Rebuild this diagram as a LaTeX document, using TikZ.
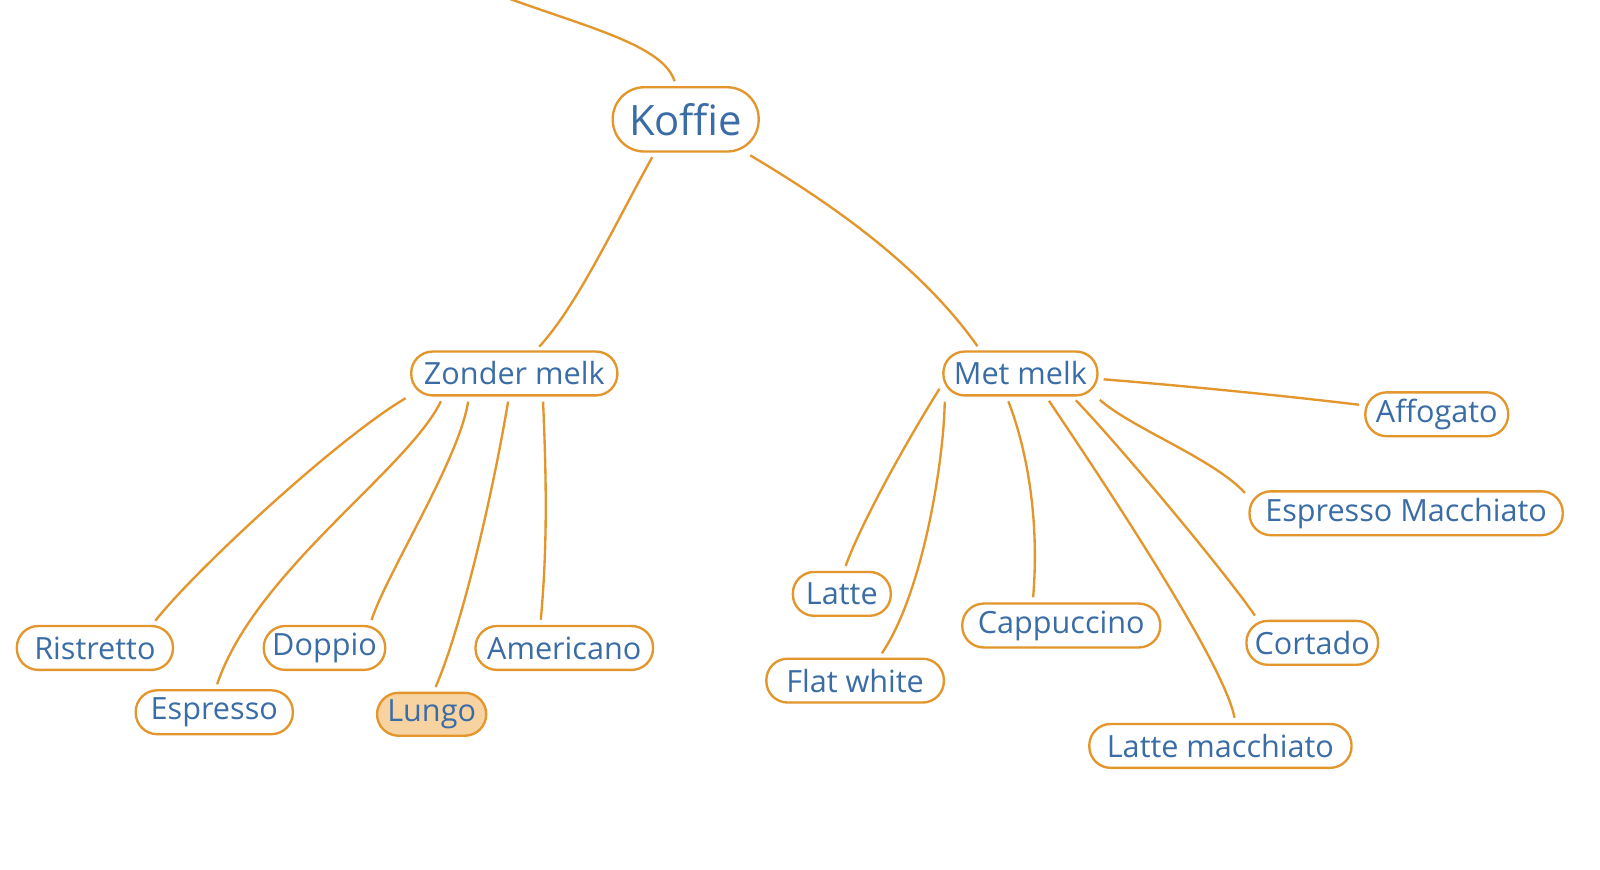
\documentclass[tikz,border=0pt]{standalone}
\usepackage{fontspec}
\setmainfont{Open Sans}
\definecolor{lineor}{HTML}{E3962C}
\definecolor{txtbl}{HTML}{3A6CA6}
\definecolor{lungofill}{HTML}{F8D3A2}
\tikzset{
  leaf/.style={draw=lineor, line width=2.3pt, rounded corners=21pt, minimum height=43pt,
    inner xsep=4pt, inner ysep=0pt, text=txtbl, font=\fontsize{30}{35}\selectfont, fill=white},
  rootbox/.style={leaf, rounded corners=31pt, minimum height=63pt, font=\fontsize{41}{48}\selectfont},
  conn/.style={draw=lineor, line width=2.3pt, shorten <=5pt, shorten >=5pt}
}
\begin{document}
\begin{tikzpicture}[x=1pt,y=-1pt]
\useasboundingbox[fill=white] (0,0) rectangle (1568,852.6);
% nodes
\node[rootbox, minimum width=143pt] (kof) at (672,117) {Koffie};
\node[leaf, minimum width=202pt] (zm) at (504,366) {Zonder melk};
\node[leaf, minimum width=151pt] (mm) at (1000,366) {Met melk};
\node[leaf, minimum width=140pt] (aff) at (1408,406) {Affogato};
\node[leaf, minimum width=307pt] (em) at (1378,503) {Espresso Macchiato};
\node[leaf, minimum width=129pt] (cor) at (1286,630) {Cortado};
\node[leaf, minimum width=257pt] (lm) at (1196,731) {Latte macchiato};
\node[leaf, minimum width=194pt] (cap) at (1040,613) {Cappuccino};
\node[leaf, minimum width=96pt] (lat) at (825,582) {Latte};
\node[leaf, minimum width=174pt] (fw) at (838,667) {Flat white};
\node[leaf, minimum width=153pt] (ris) at (93,635) {Ristretto};
\node[leaf, minimum width=154pt] (esp) at (210,698) {Espresso};
\node[leaf, minimum width=119pt] (dop) at (318,635) {Doppio};
\node[leaf, minimum width=107pt, minimum height=42pt, fill=lungofill] (lun) at (423,700) {Lungo};
\node[leaf, minimum width=174pt] (ame) at (553,635) {Americano};
\coordinate (topend) at (497,-2);
% connectors
\draw[conn, shorten <=0pt] (topend) .. controls (580,28) and (650,45) .. (kof.106);
\draw[conn] (kof.227) .. controls (600,225) and (565,300) .. (zm.47);
\draw[conn] (kof.331) .. controls (790,185) and (895,250) .. (mm.150);
\draw[conn] (zm.192) .. controls (330,430) and (190,560) .. (ris.22);
\draw[conn] (zm.198) .. controls (400,460) and (250,560) .. (esp.87);
\draw[conn] (zm.207) .. controls (450,450) and (380,560) .. (dop.27);
\draw[conn] (zm.257) .. controls (480,500) and (450,620) .. (lun.85);
\draw[conn] (zm.321) .. controls (536,480) and (536,540) .. (ame.136);
\draw[conn] (mm.188) .. controls (890,430) and (845,510) .. (lat.85);
\draw[conn] (mm.197) .. controls (925,450) and (905,580) .. (fw.44);
\draw[conn] (mm.239) .. controls (1010,450) and (1018,520) .. (cap.141);
\draw[conn] (mm.318) .. controls (1080,470) and (1200,650) .. (lm.57);
\draw[conn] (mm.336) .. controls (1100,440) and (1200,560) .. (cor.157);
\draw[conn] (mm.343) .. controls (1110,420) and (1190,450) .. (em.174);
\draw[conn] (mm.356) .. controls (1160,378) and (1260,388) .. (aff.173);
\end{tikzpicture}
\end{document}
